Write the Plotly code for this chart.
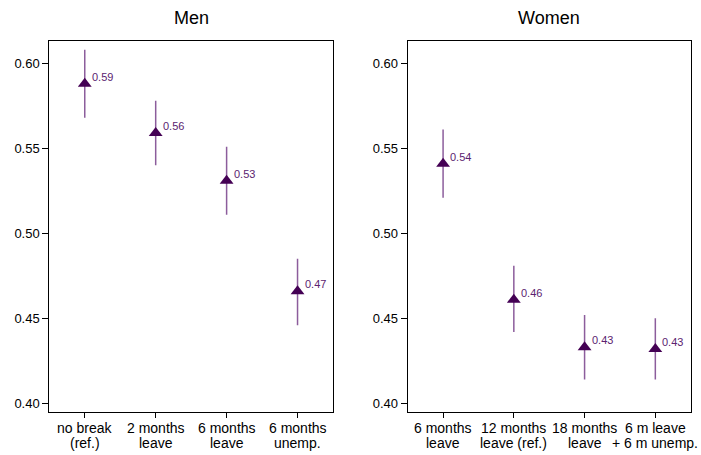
import plotly.graph_objects as go

# ---- data ----
men_categories = ["no break\n(ref.)", "2 months\nleave", "6 months\nleave", "6 months\nunemp."]
men_est = [0.588, 0.559, 0.531, 0.466]
men_lo = [0.568, 0.540, 0.511, 0.446]
men_hi = [0.608, 0.578, 0.551, 0.485]

women_categories = ["6 months\nleave", "12 months\nleave (ref.)", "18 months\nleave", "6 m leave\n+ 6 m unemp."]
women_est = [0.541, 0.461, 0.433, 0.432]
women_lo = [0.521, 0.442, 0.414, 0.414]
women_hi = [0.561, 0.481, 0.452, 0.450]

y_ticks = [0.40, 0.45, 0.50, 0.55, 0.60]
panel_titles = ["Men", "Women"]

# ---- style ----
W, H = 701, 455
FONT = "Liberation Sans, Arial, sans-serif"
MARK = "#440154"
ERR = "#8c5d9c"
LAB = "#5b2370"

fig = go.Figure()

panels = [
    (men_categories, men_est, men_lo, men_hi, "x", "y"),
    (women_categories, women_est, women_lo, women_hi, "x2", "y2"),
]

annotations = []
for idx, (cats, est, lo, hi, xa, ya) in enumerate(panels):
    xs = list(range(len(cats)))
    fig.add_trace(go.Scatter(
        x=xs, y=est, mode="markers",
        marker=dict(symbol="triangle-up", size=12, color=MARK),
        error_y=dict(type="data", symmetric=False,
                     array=[h - e for h, e in zip(hi, est)],
                     arrayminus=[e - l for e, l in zip(est, lo)],
                     width=0, thickness=1.5, color=ERR),
        xaxis=xa, yaxis=ya, showlegend=False, hoverinfo="skip",
    ))
    for x, e in zip(xs, est):
        annotations.append(dict(
            x=x, y=e, xref=xa, yref=ya, text=f"{e:.2f}", showarrow=False,
            xanchor="left", yanchor="middle", xshift=5, yshift=7,
            font=dict(family=FONT, size=11, color=LAB)))
    # two-line category labels under the axis
    for x, c in zip(xs, cats):
        l1, l2 = c.split("\n")
        annotations.append(dict(
            x=x, y=1 - 428.3 / H, xref=xa, yref="paper", text=l1,
            showarrow=False, xanchor="center", yanchor="middle",
            font=dict(family=FONT, size=14, color="black")))
        annotations.append(dict(
            x=x, y=1 - 442.8 / H, xref=xa, yref="paper", text=l2,
            showarrow=False, xanchor="center", yanchor="middle",
            font=dict(family=FONT, size=14, color="black")))

doms = [(49.3 / W, 333 / W), (407.7 / W, 690.7 / W)]
for (d0, d1), t in zip(doms, panel_titles):
    annotations.append(dict(
        x=(d0 + d1) / 2, y=1 - 18.5 / H, xref="paper", yref="paper", text=t,
        showarrow=False, xanchor="center", yanchor="middle",
        font=dict(family=FONT, size=18, color="black")))

ydom = [1 - 411.7 / H, 1 - 40.7 / H]
axis_common = dict(showgrid=False, zeroline=False, showline=True, mirror=True,
                   linecolor="black", linewidth=1, ticks="outside",
                   tickcolor="black", ticklen=6, tickwidth=1, automargin=False)

xax = dict(axis_common, range=[-0.5, 3.5], tickvals=[0, 1, 2, 3],
           showticklabels=False, ticklen=5)
yax = dict(axis_common, range=[0.3951, 0.6133], tickvals=y_ticks,
           tickformat=".2f", tickfont=dict(family=FONT, size=13, color="black"),
           domain=ydom)

fig.update_layout(
    width=W, height=H,
    margin=dict(l=0, r=0, t=0, b=0, autoexpand=False),
    paper_bgcolor="white", plot_bgcolor="white",
    font=dict(family=FONT, color="black"),
    xaxis=dict(xax, domain=list(doms[0]), anchor="y"),
    yaxis=dict(yax, anchor="x"),
    xaxis2=dict(xax, domain=list(doms[1]), anchor="y2"),
    yaxis2=dict(yax, anchor="x2"),
    annotations=annotations,
)

fig.write_html("out.html", config={"displayModeBar": False},
               post_script="document.body.style.margin='0';document.body.style.overflow='hidden';")
